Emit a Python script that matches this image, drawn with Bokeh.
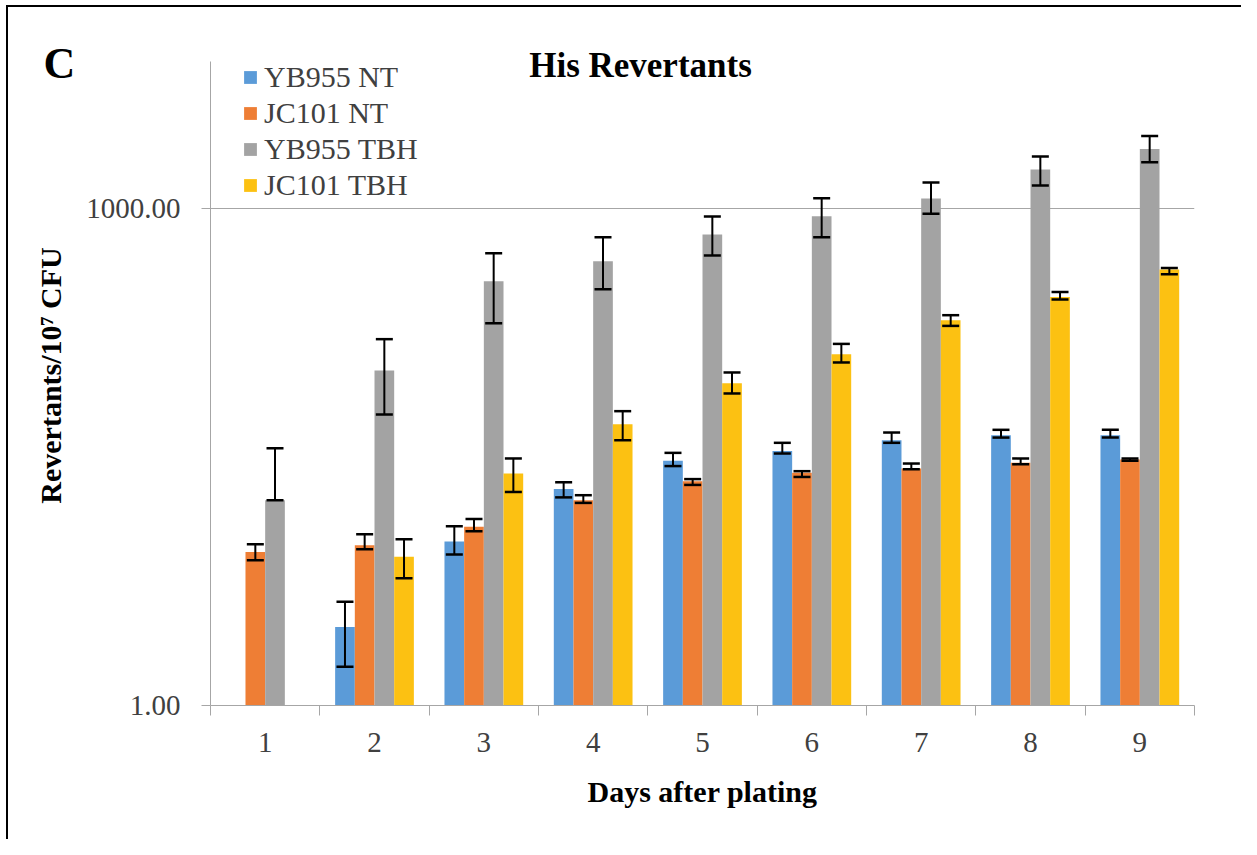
import numpy as np
from bokeh.plotting import figure
from bokeh.models import (ColumnDataSource, Range1d, FixedTicker, PrintfTickFormatter,
                          Whisker, TeeHead, Legend, LegendItem, Label)
from bokeh.embed import file_html
from bokeh.resources import INLINE

nan = float("nan")

# ---- data ----
days = [1, 2, 3, 4, 5, 6, 7, 8, 9]
series_names = ["YB955 NT", "JC101 NT", "YB955 TBH", "JC101 TBH"]

yb955_nt    = [nan, 2.98, 9.75, 20.2, 29.9, 34.3, 39.8, 42.7, 42.7]
yb955_nt_hi = [nan, 4.22, 12.06, 22.2, 33.4, 38.4, 44.3, 46.0, 46.0]
yb955_nt_lo = [nan, 1.71, 8.14, 18.0, 27.8, 33.1, 38.4, 41.3, 41.3]

jc101_nt    = [8.44, 9.27, 11.95, 17.3, 22.5, 25.3, 26.9, 29.1, 30.5]
jc101_nt_hi = [9.40, 10.79, 13.35, 18.55, 23.2, 25.9, 28.8, 30.9, 30.9]
jc101_nt_lo = [7.52, 8.76, 11.25, 16.67, 21.4, 23.9, 26.6, 28.5, 29.9]

yb955_tbh    = [17.3, 105.0, 362.0, 478.0, 693.0, 894.0, 1143.0, 1709.0, 2275.0]
yb955_tbh_hi = [35.6, 162.0, 535.0, 668.0, 890.0, 1147.0, 1427.0, 2048.0, 2726.0]
yb955_tbh_lo = [17.3, 56.9, 202.0, 324.0, 518.0, 668.0, 923.0, 1369.0, 1891.0]

jc101_tbh    = [nan, 7.88, 25.1, 49.7, 87.9, 131.5, 210.8, 291.3, 426.2]
jc101_tbh_hi = [nan, 10.07, 30.9, 59.6, 102.0, 151.7, 226.0, 312.3, 435.8]
jc101_tbh_lo = [nan, 5.86, 19.4, 39.8, 76.2, 117.2, 194.8, 281.0, 399.3]

values = [yb955_nt, jc101_nt, yb955_tbh, jc101_tbh]
highs = [yb955_nt_hi, jc101_nt_hi, yb955_tbh_hi, jc101_tbh_hi]
lows = [yb955_nt_lo, jc101_nt_lo, yb955_tbh_lo, jc101_tbh_lo]

colors = ["#5B9BD8", "#EE7E35", "#A3A3A3", "#FCC112"]
bar_w = 0.18
offsets = [-1.5 * bar_w, -0.5 * bar_w, 0.5 * bar_w, 1.5 * bar_w]

SERIF = "Liberation Serif"

# plot area reaches a little above the axis top so the chart title is not cut
y_axis_top = 7700
y_view_top = 9566

p = figure(width=1241, height=839,
           x_range=Range1d(0.5, 9.5), y_range=Range1d(1, y_view_top),
           y_axis_type="log", output_backend="svg", toolbar_location=None,
           min_border_left=210, min_border_right=47,
           min_border_top=45, min_border_bottom=134)
p.outline_line_color = None
p.background_fill_color = "white"
p.border_fill_color = None
p.border_fill_alpha = 0
# outer panel frame: black left and top edges
p.styles = {
    "background-color": "white",
    "background-image": "linear-gradient(#000, #000), linear-gradient(#000, #000)",
    "background-size": "2px 100%, 100% 2px",
    "background-position": "6px 5px, 6px 5px",
    "background-repeat": "no-repeat",
}

# panel letter as the figure title
p.title.text = "C"
p.title.align = "left"
p.title.offset = -167
p.title.standoff = -85
p.title.text_font = SERIF
p.title.text_font_style = "bold"
p.title.text_font_size = "44px"
p.title.text_color = "black"

# y axis
yt = FixedTicker(ticks=[1, 1000], minor_ticks=[])
p.yaxis.ticker = yt
p.ygrid.ticker = yt
p.yaxis.bounds = (1, y_axis_top)
p.yaxis.formatter = PrintfTickFormatter(format="%.2f")
p.ygrid.grid_line_color = "#a6a6a6"
p.ygrid.grid_line_width = 1
p.xgrid.visible = False
p.yaxis.axis_line_color = "#a6a6a6"
p.yaxis.major_tick_line_color = "#a6a6a6"
p.yaxis.major_tick_out = 9
p.yaxis.major_tick_in = 0
p.yaxis.minor_tick_line_color = None
p.yaxis.major_label_standoff = 21
p.yaxis.major_label_text_font = SERIF
p.yaxis.major_label_text_font_size = "29px"
p.yaxis.major_label_text_color = "#404040"
p.yaxis.axis_label = "Revertants/10\u2077 CFU"
p.yaxis.axis_label_text_font = SERIF
p.yaxis.axis_label_text_font_style = "bold"
p.yaxis.axis_label_text_font_size = "30px"
p.yaxis.axis_label_text_color = "black"
p.yaxis.axis_label_standoff = 16

# x axis
xt = FixedTicker(ticks=days, minor_ticks=[d - 0.5 for d in days] + [days[-1] + 0.5])
p.xaxis.ticker = xt
p.xaxis.formatter = PrintfTickFormatter(format="%d")
p.xaxis.axis_line_color = "#a6a6a6"
p.xaxis.major_tick_line_color = None
p.xaxis.major_tick_out = 0
p.xaxis.major_tick_in = 0
p.xaxis.minor_tick_line_color = "#a6a6a6"
p.xaxis.minor_tick_out = 10
p.xaxis.minor_tick_in = 0
p.xaxis.major_label_standoff = 17
p.xaxis.major_label_text_font = SERIF
p.xaxis.major_label_text_font_size = "29px"
p.xaxis.major_label_text_color = "#404040"
p.xaxis.axis_label = "Days after plating"
p.xaxis.axis_label_text_font = SERIF
p.xaxis.axis_label_text_font_style = "bold"
p.xaxis.axis_label_text_font_size = "30px"
p.xaxis.axis_label_text_color = "black"
p.xaxis.axis_label_standoff = 20

items = []
for name, vals, hi, lo, col, off in zip(series_names, values, highs, lows, colors, offsets):
    v = np.array(vals, dtype=float)
    keep = ~np.isnan(v)
    src = ColumnDataSource(dict(
        x=(np.array(days, dtype=float) + off)[keep],
        top=v[keep],
        hi=np.array(hi, dtype=float)[keep],
        lo=np.array(lo, dtype=float)[keep],
    ))
    r = p.vbar(x="x", top="top", bottom=1, width=bar_w, source=src,
               fill_color=col, line_color=None)
    items.append(LegendItem(label=name, renderers=[r]))
    w = Whisker(source=src, base="x", upper="hi", lower="lo", level="overlay",
                line_color="black", line_width=2,
                upper_head=TeeHead(size=17, line_width=2.5, line_color="black"),
                lower_head=TeeHead(size=17, line_width=2.5, line_color="black"))
    p.add_layout(w)

legend = Legend(items=items, location=(32, 503), orientation="vertical",
                border_line_color=None, background_fill_alpha=0,
                padding=0, margin=0, glyph_width=16, glyph_height=16,
                label_standoff=6, spacing=2,
                label_text_font=SERIF, label_text_font_size="30px",
                label_text_color="#404040")
p.add_layout(legend)

p.add_layout(Label(x=430, y=640, x_units="screen", y_units="screen",
                   text="His Revertants", text_align="center",
                   text_baseline="alphabetic", text_font=SERIF,
                   text_font_style="bold", text_font_size="35px",
                   text_color="black"))

open("out.html", "w").write(file_html(p, INLINE))
